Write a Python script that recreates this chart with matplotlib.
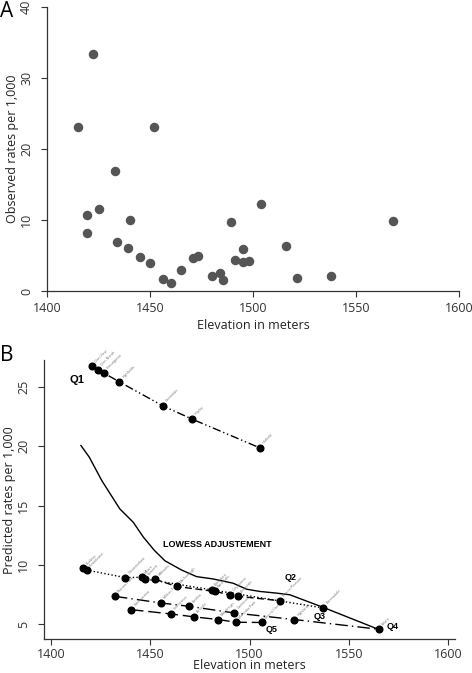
import numpy as np
import matplotlib
matplotlib.use("Agg")
import matplotlib.pyplot as plt

plt.rcParams['font.family'] = ['Open Sans', 'DejaVu Sans']

# panel A: observed rates
obs_elev = [1415.2, 1422.2, 1419.2, 1419.2, 1425.1, 1433.1, 1434.1, 1439.1, 1440.3, 1445.1,
            1450.1, 1452.1, 1456.1, 1460.1, 1465.2, 1471.0, 1473.2, 1480.0, 1483.9, 1485.2,
            1489.1, 1491.2, 1495.1, 1495.1, 1498.1, 1504.1, 1515.9, 1521.1, 1537.9, 1568.0]
obs_rate = [23.1, 33.4, 10.7, 8.1, 11.5, 16.9, 6.9, 6.1, 10.0, 4.8,
            4.0, 23.1, 1.7, 1.1, 2.9, 4.7, 4.9, 2.1, 2.6, 1.6,
            9.7, 4.4, 5.9, 4.1, 4.2, 12.2, 6.3, 1.8, 2.1, 9.8]

# panel B: predicted rates by quintile
q1_elev = [1420.5, 1423.5, 1426.5, 1434.4, 1456.4, 1471.1, 1505.2]
q1_rate = [26.72, 26.44, 26.17, 25.42, 23.39, 22.28, 19.86]
q1_names = ["Glen View", "Glen Norah", "Chitungwiza", "Highfields", "Greendale", "Hopley", "Hatfield"]

q2_elev = [1452.4, 1463.3, 1482.6, 1490.1, 1494.3, 1515.3]
q2_rate = [8.81, 8.20, 7.78, 7.50, 7.37, 7.00]
q2_names = ["Mabvuku", "Marlborough", "Waterfalls", "City centre", "Avondale", "Mount Pleasant"]

q3_elev = [1416.3, 1418.0, 1437.3, 1445.7, 1447.3, 1480.9, 1537.1]
q3_rate = [9.72, 9.58, 8.95, 8.97, 8.83, 7.92, 6.39]
q3_names = ["Budiriro", "Kuwadzana", "Dzivarasekwa", "Mbare", "Epworth", "Belvedere", "Borrowdale"]

q4_elev = [1432.2, 1455.4, 1469.6, 1492.3, 1522.5, 1565.0]
q4_rate = [7.37, 6.81, 6.53, 5.97, 5.42, 4.60]
q4_names = ["Warren Park", "Milton Park", "Eastlea", "Greencroft", "Highlands", "Tafara"]

q5_elev = [1440.3, 1460.4, 1472.1, 1484.2, 1493.1, 1506.1]
q5_rate = [6.25, 5.89, 5.64, 5.42, 5.19, 5.17]
q5_names = ["Kambuzuma", "Southerton", "Arcadia", "Mabelreign", "Marimba Park", "Mount Hampden"]

lowess_elev = [1415.1, 1419.3, 1425.7, 1434.7, 1441.4, 1446.5, 1452.0, 1457.4, 1465.8, 1473.3,
               1481.7, 1491.8, 1498.5, 1505.2, 1513.6, 1520.3, 1537.1, 1565.1]
lowess_rate = [20.06, 19.08, 17.08, 14.72, 13.61, 12.36, 11.25, 10.36, 9.58, 9.03,
               8.83, 8.47, 7.97, 7.78, 7.64, 7.50, 6.44, 4.58]

fig = plt.figure(figsize=(4.72, 6.73), dpi=100)
axis_col = '#333333'

def style(ax, xpad=3):
    for s in ['top', 'right']:
        ax.spines[s].set_visible(False)
    for s in ['left', 'bottom']:
        ax.spines[s].set_color(axis_col)
        ax.spines[s].set_linewidth(0.9)
    ax.tick_params(colors=axis_col, labelsize=9, length=4, width=0.8)
    ax.tick_params(axis='x', pad=xpad)
    ax.tick_params(axis='y', pad=6)
    for lab in ax.get_yticklabels():
        lab.set_rotation(90)
        lab.set_va('center')

# ---- A
axA = fig.add_axes([0.0996, 0.5676, 0.873, 0.422])
axA.scatter(obs_elev, obs_rate, s=34, color='#555555', clip_on=False, zorder=3)
axA.set_xlim(1400, 1600)
axA.set_ylim(0, 40)
axA.set_xticks([1400, 1450, 1500, 1550, 1600])
axA.set_yticks([0, 10, 20, 30, 40])
style(axA, xpad=4)
axA.set_xlabel('Elevation in meters', fontsize=9, color='#222222', labelpad=3)
axA.set_ylabel('Observed rates per 1,000', fontsize=9, color='#222222', labelpad=1)
fig.text(0.0, 0.998, 'A', fontsize=15, va='top', ha='left')

# ---- B
axB = fig.add_axes([0.0932, 0.0500, 0.871, 0.415])
axB.set_xlim(1396.5, 1603.5)
axB.set_ylim(3.75, 27.25)

axB.plot(lowess_elev, lowess_rate, color='black', lw=1.0)

groups = [
    (q1_elev, q1_rate, q1_names, (6, 2, 1, 2, 1, 2)),
    (q2_elev, q2_rate, q2_names, (5, 2.5)),
    (q3_elev, q3_rate, q3_names, (1, 1.6)),
    (q4_elev, q4_rate, q4_names, (9, 3, 1, 3)),
    (q5_elev, q5_rate, q5_names, (9, 3.5)),
]
for xs, ys, names, dash in groups:
    ln, = axB.plot(xs, ys, color='black', lw=1.0)
    ln.set_dashes(dash)
    axB.plot(xs, ys, 'o', color='black', ms=4.8, zorder=4)
    for x, y, n in zip(xs, ys, names):
        axB.annotate(n, (x, y), xytext=(1.5, 2), textcoords='offset points',
                     rotation=45, fontsize=2.6, color='#777777', ha='left', va='bottom')

lab_kw = dict(fontsize=6.5, fontweight='bold', family=['Liberation Sans', 'DejaVu Sans'])
axB.text(1413.3, 25.56, 'Q1', ha='center', va='center', **dict(lab_kw, fontsize=8))
axB.text(1520.8, 8.95, 'Q2', ha='center', va='center', **lab_kw)
axB.text(1535.4, 5.67, 'Q3', ha='center', va='center', **lab_kw)
axB.text(1572.0, 4.80, 'Q4', ha='center', va='center', **lab_kw)
axB.text(1511.0, 4.58, 'Q5', ha='center', va='center', **lab_kw)
axB.text(1483.6, 11.7, 'LOWESS ADJUSTEMENT', ha='center', va='center', **lab_kw)

axB.set_xticks([1400, 1450, 1500, 1550, 1600])
axB.set_yticks([5, 10, 15, 20, 25])
style(axB, xpad=2)
axB.set_xlabel('Elevation in meters', fontsize=9, color='#222222', labelpad=-1)
axB.set_ylabel('Predicted rates per 1,000', fontsize=9, color='#222222', labelpad=1)
fig.text(0.0, 0.488, 'B', fontsize=15, va='top', ha='left')

fig.savefig('out.png', dpi=100)
